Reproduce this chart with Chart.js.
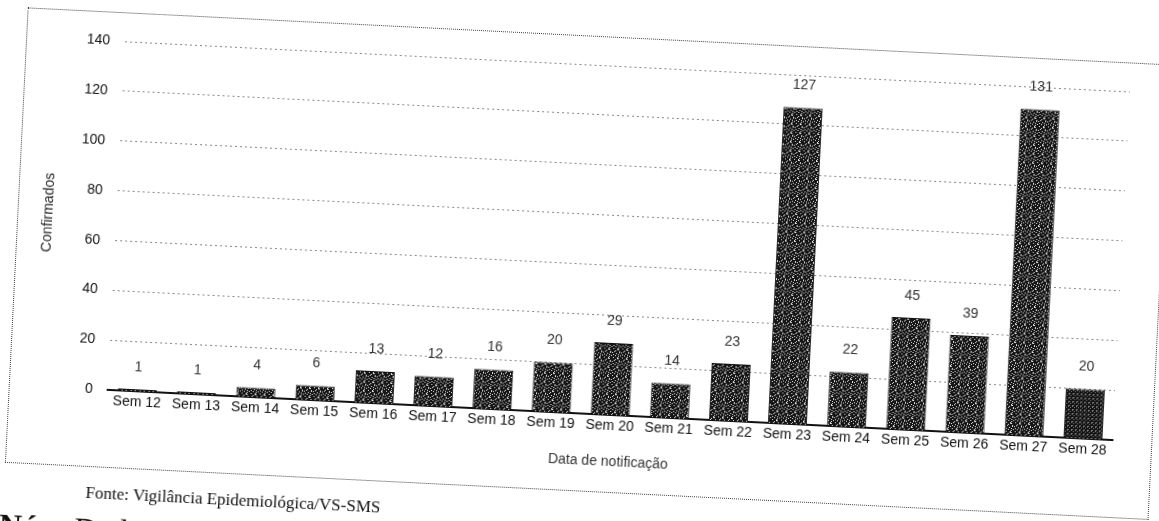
<!DOCTYPE html>
<html>
<head>
<meta charset="utf-8">
<script src="https://cdn.jsdelivr.net/npm/chart.js@4.4.0/dist/chart.umd.min.js"></script>
<style>
  html, body { margin: 0; padding: 0; background: #fff; }
  body { width: 1159px; height: 521px; position: relative; overflow: hidden; }
  /* the scanned page is slightly rotated */
  #page {
    position: absolute; left: 0; top: 0; width: 1200px; height: 560px;
    transform-origin: 0 0; transform: rotate(2.86deg);
  }
  #frame {
    position: absolute; left: 28px; top: 6px; width: 1145px; height: 456px;
    border: 1px dotted #444; box-sizing: border-box;
  }
  #wrap { position: absolute; left: 0; top: 0; width: 1200px; height: 521px; }
  #fonte {
    position: absolute; left: 110px; top: 478px;
    font-family: "Liberation Serif", "DejaVu Serif", serif; font-size: 17px; color: #111;
  }
  #num {
    position: absolute; left: 25px; top: 506px;
    font-family: "Liberation Serif", "DejaVu Serif", serif; font-size: 32px; color: #111;
  }
  #num b { font-weight: bold; }
</style>
</head>
<body>
<div id="page">
  <div id="frame"></div>
  <div id="wrap"><canvas id="chart"></canvas></div>
  <div id="fonte">Fonte: Vigilância Epidemiológica/VS-SMS</div>
  <div id="num"><b>Núm</b> Dados</div>
</div>
<script>
// Confirmed cases per epidemiological week
const semanas = ['Sem 12', 'Sem 13', 'Sem 14', 'Sem 15', 'Sem 16', 'Sem 17', 'Sem 18', 'Sem 19', 'Sem 20',
                 'Sem 21', 'Sem 22', 'Sem 23', 'Sem 24', 'Sem 25', 'Sem 26', 'Sem 27', 'Sem 28'];
const confirmados = [1, 1, 4, 6, 13, 12, 16, 20, 29, 14, 23, 127, 22, 45, 39, 131, 20];
const yTicks = [0, 20, 40, 60, 80, 100, 120, 140];

Chart.defaults.font.family = "'Liberation Sans', Arial, sans-serif";
Chart.defaults.color = '#111';

// grainy photocopy fill for the bars
function grainPattern(dark, light, rows) {
    const c = document.createElement('canvas');
    c.width = rows[0].length;
    c.height = rows.length;
    const g = c.getContext('2d');
    rows.forEach((row, y) => {
        for (let x = 0; x < row.length; x++) {
            g.fillStyle = row[x] === '#' ? dark : light;
            g.fillRect(x, y, 1, 1);
        }
    });
    return g.createPattern(c, 'repeat');
}
const grainRows = [
    '##.####.#',
    '#####.###',
    '.###.####',
    '####..###',
    '##.######',
    '#.####.##',
    '######.#.',
    '###.#####',
    '.####.###'
];
const fineRows = ['###.', '#.##', '####', '.##.'];
const ctx = document.getElementById('chart').getContext('2d');
const grainFill = grainPattern('#151515', '#e0e0e0', grainRows);
const fineFill = grainPattern('#121212', '#7a7a7a', fineRows);

// value labels above each bar
const valueLabels = {
    id: 'valueLabels',
    afterDatasetsDraw(chart) {
        const c = chart.ctx;
        const meta = chart.getDatasetMeta(0);
        c.save();
        c.font = "14px 'Liberation Sans', Arial, sans-serif";
        c.fillStyle = '#333';
        c.textAlign = 'center';
        c.textBaseline = 'middle';
        meta.data.forEach((bar, i) => {
            c.fillText(String(confirmados[i]), bar.x, bar.y - 22);
        });
        c.restore();
    }
};

new Chart(ctx, {
    type: 'bar',
    data: {
        labels: semanas,
        datasets: [{
            label: 'Confirmados',
            data: confirmados,
            backgroundColor: confirmados.map((v, i) => i === confirmados.length - 1 ? fineFill : grainFill),
            borderColor: '#111',
            borderWidth: 1,
            barPercentage: 0.66,
            categoryPercentage: 1
        }]
    },
    options: {
        responsive: true,
        maintainAspectRatio: false,
        animation: false,
        layout: { padding: { left: 51, right: 67, top: 35, bottom: 81 } },
        plugins: {
            legend: { display: false },
            tooltip: { enabled: false }
        },
        scales: {
            x: {
                grid: { display: false, drawTicks: false, tickLength: 0 },
                border: { color: '#111', width: 2 },
                ticks: { color: '#111', font: { size: 14 }, padding: 2, maxRotation: 0, autoSkip: false },
                title: {
                    display: true, text: 'Data de notificação', color: '#333',
                    font: { size: 14 }, padding: { top: 18, bottom: 0 }
                }
            },
            y: {
                min: 0, max: 140,
                afterBuildTicks: axis => { axis.ticks = yTicks.map(v => ({ value: v })); },
                grid: { color: '#888', lineWidth: 1, drawTicks: false },
                border: { display: false, dash: [2, 3] },
                ticks: { color: '#111', font: { size: 14 }, padding: 15 },
                title: {
                    display: true, text: 'Confirmados', color: '#222',
                    font: { size: 14 }, padding: { top: 0, bottom: 6 }
                }
            }
        }
    },
    plugins: [valueLabels]
});
</script>
</body>
</html>
